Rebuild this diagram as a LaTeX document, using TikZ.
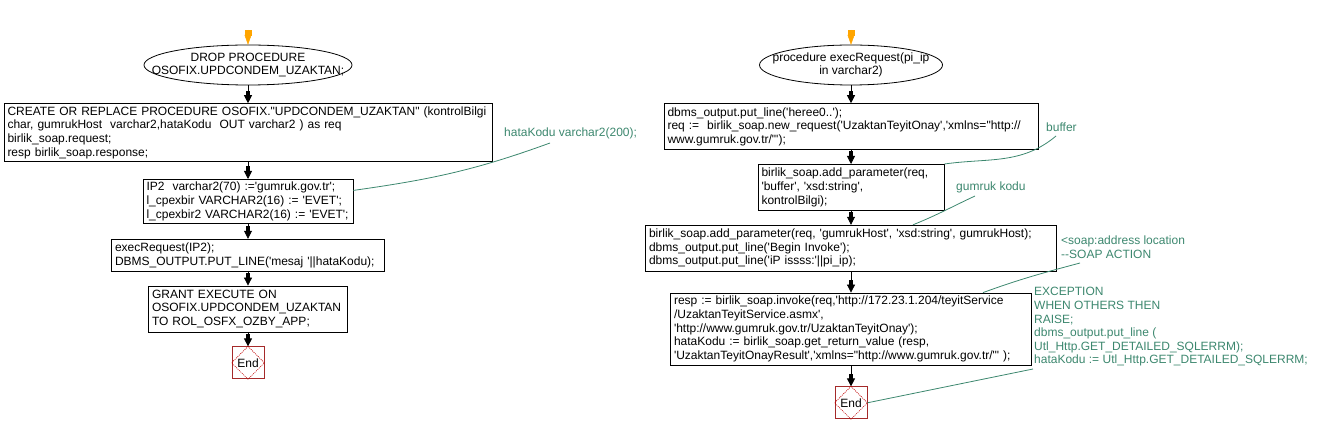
\documentclass[tikz,border=0pt]{standalone}
\usepackage{fontspec}
\setmainfont{Liberation Sans}[Ligatures=TeXOff]
\usetikzlibrary{positioning}
\usetikzlibrary{arrows.meta}
\definecolor{notegreen}{RGB}{60,135,110}
\definecolor{endred}{RGB}{165,42,42}
\definecolor{startorange}{RGB}{255,165,0}
\tikzset{
    blockhead/.tip={Rectangle[length=5pt,width=4.5pt,sep=-0.5pt]Triangle[length=8pt,width=8pt]}, % fat flow arrow heads
    flow/.style={-{blockhead}, line width=0.8pt},
    startflow/.style={-{Rectangle[length=5pt,width=6pt,sep=-0.5pt]Triangle[length=10pt,width=7pt]}, draw=startorange, line width=0.5pt},
    codebox/.style={draw, line width=0.8pt, text width=#1, align=left, inner xsep=3.5pt, inner ysep=0pt},
    procname/.style={minimum height=40pt, inner sep=0pt, align=center},
    endbox/.style={draw=endred, line width=0.8pt, minimum size=32pt, inner sep=0pt},
    enddiamond/.style={draw=red!75!black, line width=0.6pt, dash pattern=on 1pt off 1pt},
    note/.style={text=notegreen, align=left, inner sep=1pt, anchor=west},
    noteline/.style={draw=notegreen, line width=0.8pt},
}
\begin{document}
\begin{tikzpicture}[x=1pt, y=-1pt, font=\fontsize{12}{13.6}\selectfont]
\useasboundingbox (0,0) rectangle (1322,430);

% left procedure
\coordinate (leftstart) at (248,30);
\node[procname, minimum width=208pt] (dropproc) at (248,65) {DROP PROCEDURE\\OSOFIX.UPDCONDEM\_UZAKTAN;};
\draw[line width=0.8pt] (dropproc.center) ellipse [x radius=104pt, y radius=20pt];
\node[codebox=481pt, minimum height=58pt, below=18pt of dropproc] (createproc)
    {CREATE OR REPLACE PROCEDURE OSOFIX."UPDCONDEM\_UZAKTAN" (kontrolBilgi\\
     char, gumrukHost\ \ varchar2,hataKodu\ \ OUT varchar2 ) as req\\
     birlik\_soap.request;\\
     resp birlik\_soap.response;};
\node[codebox=203pt, minimum height=44pt, below=17pt of createproc] (declvars)
    {IP2\ \ varchar2(70) :='gumruk.gov.tr';\\
     l\_cpexbir VARCHAR2(16) := 'EVET';\\
     l\_cpexbir2 VARCHAR2(16) := 'EVET';};
\node[codebox=266pt, minimum height=32pt, below=15pt of declvars] (execcall)
    {execRequest(IP2);\\
     DBMS\_OUTPUT.PUT\_LINE('mesaj '||hataKodu);};
\node[codebox=192pt, minimum height=46pt, below=14pt of execcall] (grantexec)
    {GRANT EXECUTE ON\\
     OSOFIX.UPDCONDEM\_UZAKTAN\\
     TO ROL\_OSFX\_OZBY\_APP;};
\node[endbox, below=14pt of grantexec] (leftend) {End};
\draw[enddiamond] (leftend.north) -- (leftend.east) -- (leftend.south) -- (leftend.west) -- cycle;

\draw[startflow] (leftstart) -- (dropproc.north);
\draw[flow] (dropproc.south) -- (createproc.north);
\draw[flow] (createproc.south) -- (declvars.north);
\draw[flow] (declvars.south) -- (execcall.north);
\draw[flow] (execcall.south) -- (grantexec.north);
\draw[flow] (grantexec.south) -- (leftend.north);

% right procedure
\coordinate (rightstart) at (851,30);
\node[procname, minimum width=183pt] (execproc) at (851,65) {procedure execRequest(pi\_ip\\in varchar2)};
\draw[line width=0.8pt] (execproc.center) ellipse [x radius=91.5pt, y radius=20pt];
\node[codebox=367pt, minimum height=46pt, below=18pt of execproc] (reqinit)
    {dbms\_output.put\_line('heree0..');\\
     req :=\ \ birlik\_soap.new\_request('UzaktanTeyitOnay','xmlns="http://\\
     www.gumruk.gov.tr/"');};
\node[codebox=179pt, minimum height=46pt, below=14pt of reqinit] (addbuffer)
    {birlik\_soap.add\_parameter(req,\\
     'buffer', 'xsd:string',\\
     kontrolBilgi);};
\node[codebox=404pt, minimum height=46pt, below=14pt of addbuffer] (addhost)
    {birlik\_soap.add\_parameter(req, 'gumrukHost', 'xsd:string', gumrukHost);\\
     dbms\_output.put\_line('Begin Invoke');\\
     dbms\_output.put\_line('iP issss:'||pi\_ip);};
\node[codebox=354pt, minimum height=72pt, below=21pt of addhost] (invokecall)
    {resp := birlik\_soap.invoke(req,'http://172.23.1.204/teyitService\\
     /UzaktanTeyitService.asmx',\\
     'http://www.gumruk.gov.tr/UzaktanTeyitOnay');\\
     hataKodu := birlik\_soap.get\_return\_value (resp,\\
     'UzaktanTeyitOnayResult','xmlns="http://www.gumruk.gov.tr/"' );};
\node[endbox, below=21pt of invokecall] (rightend) {End};
\draw[enddiamond] (rightend.north) -- (rightend.east) -- (rightend.south) -- (rightend.west) -- cycle;

\draw[startflow] (rightstart) -- (execproc.north);
\draw[flow] (execproc.south) -- (reqinit.north);
\draw[flow] (reqinit.south) -- (addbuffer.north);
\draw[flow] (addbuffer.south) -- (addhost.north);
\draw[flow] (addhost.south) -- (invokecall.north);
\draw[flow] (invokecall.south) -- (rightend.north);

% comments
\node[note] (notetype) at (503,133) {hataKodu varchar2(200);};
\node[note] (notebuffer) at (1045,127) {buffer};
\node[note] (notekodu) at (955,187) {gumruk kodu};
\node[note] (notesoap) at (1060,247) {<soap:address location\\--SOAP ACTION};
\node[note] (noteexc) at (1033,327) {EXCEPTION\\WHEN OTHERS THEN\\RAISE;\\dbms\_output.put\_line (\\Utl\_Http.GET\_DETAILED\_SQLERRM);\\hataKodu := Utl\_Http.GET\_DETAILED\_SQLERRM;};
\coordinate (typeend) at (550,143);
\coordinate (bufferend) at (1056,136);
\coordinate (koduend) at (975,196);
\coordinate (soapend) at (1080,263);
\coordinate (excend) at (1033,369);

\draw[noteline] ([yshift=11pt]declvars.east) to[out=8,in=200] (typeend);
\draw[noteline] (addbuffer.north east) to[out=8,in=220] (bufferend);
\draw[noteline] ([xshift=62pt]addhost.north) to[out=22,in=205] (koduend);
\draw[noteline] ([xshift=132pt]invokecall.north) to[out=20,in=195] (soapend);
\draw[noteline] (rightend.east) -- (excend);
\end{tikzpicture}
\end{document}
